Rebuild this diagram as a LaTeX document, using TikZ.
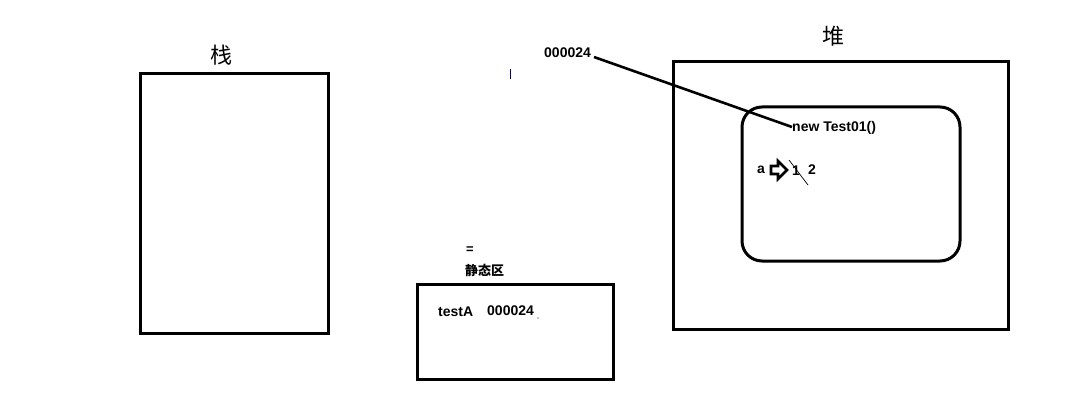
\documentclass[tikz,border=0pt]{standalone}
\usepackage{fontspec}
\setmainfont{Liberation Sans}
\newfontfamily\cjk{Noto Sans CJK SC}
\begin{document}
\begin{tikzpicture}[x=1pt,y=-1pt,
  box/.style={draw=black,line width=3pt},
  lbl/.style={font=\fontsize{14}{16}\selectfont\bfseries,inner sep=0pt},
  title/.style={font=\cjk\fontsize{22}{24}\selectfont,inner sep=0pt},
  small/.style={font=\cjk\fontsize{13}{15}\selectfont\bfseries,inner sep=0pt}]
\useasboundingbox[fill=white] (0,0) rectangle (1079,414);
% stack
\draw[box] (140,74) rectangle (328,333);
\node[title] (stk) at (221,55) {栈};
% heap
\draw[box] (673,62) rectangle (1008,329);
\node[title] (heap) at (833,36) {堆};
\draw[box,rounded corners=20pt] (742,107) rectangle (960,261);
\node[lbl,anchor=west] (obj) at (792,128) {new Test01()};
\node[lbl,anchor=west] (a) at (757,170) {a};
\draw[black,line width=2.6pt,line join=miter]
  (771,166) -- (778,166) -- (778,161) -- (787,170) -- (778,179) -- (778,174) -- (771,174) -- cycle;
\node[lbl,anchor=west] (one) at (792,171) {1};
\node[lbl,anchor=west] (two) at (808,170) {2};
\coordinate (s1) at (789,160);
\coordinate (s2) at (808,185);
\draw[black,line width=0.7pt] (s1) -- (s2);
% address
\node[lbl,anchor=west] (addr) at (544,53) {000024};
\coordinate (aend) at (594,57);
\coordinate (oend) at (792,127);
\draw[black,line width=2.6pt] (aend) -- (oend);
\coordinate (m1) at (510,69);
\coordinate (m2) at (510,79);
\draw[black!60!blue,line width=1pt] (m1) -- (m2);
% static area
\node[lbl,anchor=west,font=\fontsize{13}{14}\selectfont\bfseries] (eq) at (466,250) {=};
\node[small,anchor=west] (st) at (465,270) {静态区};
\draw[box] (417,284) rectangle (613,379);
\node[lbl,anchor=west] (ta) at (438,312) {testA};
\node[lbl,anchor=west] (tv) at (487,311) {000024};
\fill[black] (538,318) circle (0.7pt);
\end{tikzpicture}
\end{document}
